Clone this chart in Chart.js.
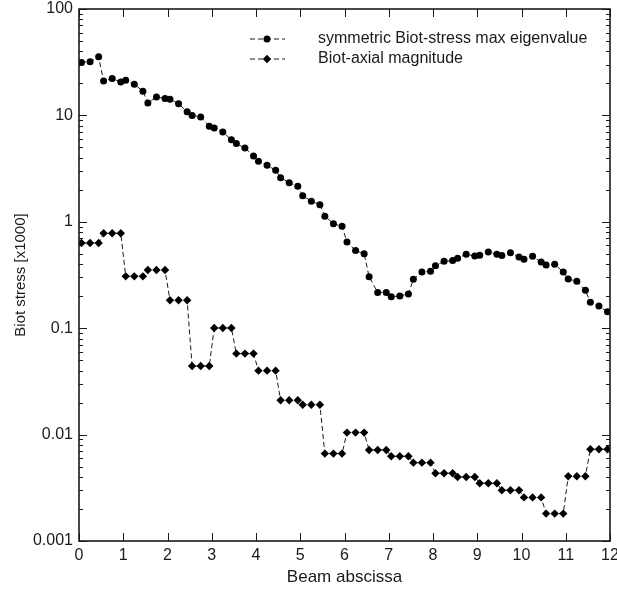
<!DOCTYPE html>
<html>
<head>
<meta charset="utf-8">
<script src="https://cdn.jsdelivr.net/npm/chart.js@4.4.1/dist/chart.umd.min.js"></script>
<style>
  html, body { margin: 0; padding: 0; background: #fff; }
  #wrap { width: 617px; height: 590px; }
</style>
</head>
<body>
<div id="wrap"><canvas id="mainChart" width="617" height="590"></canvas></div>
<script>
// Sample positions along the beam (3 points per element of length 0.5)
const abscissa = [
    0.056, 0.25, 0.444, 0.556, 0.75, 0.944, 1.056, 1.25, 1.444, 1.556, 1.75, 1.944,
    2.056, 2.25, 2.444, 2.556, 2.75, 2.944, 3.056, 3.25, 3.444, 3.556, 3.75, 3.944,
    4.056, 4.25, 4.444, 4.556, 4.75, 4.944, 5.056, 5.25, 5.444, 5.556, 5.75, 5.944,
    6.056, 6.25, 6.444, 6.556, 6.75, 6.944, 7.056, 7.25, 7.444, 7.556, 7.75, 7.944,
    8.056, 8.25, 8.444, 8.556, 8.75, 8.944, 9.056, 9.25, 9.444, 9.556, 9.75, 9.944,
    10.056, 10.25, 10.444, 10.556, 10.75, 10.944, 11.056, 11.25, 11.444, 11.556, 11.75, 11.944
];

const eigenMax = [
    31.5, 32, 35.5, 21, 22.2, 20.6, 21.4, 19.6, 16.9, 13.1, 14.9, 14.4,
    14.2, 12.9, 10.8, 10.0, 9.66, 7.9, 7.6, 6.98, 5.9, 5.43, 4.94, 4.15,
    3.7, 3.4, 3.05, 2.6, 2.33, 2.16, 1.76, 1.56, 1.45, 1.13, 0.96, 0.91,
    0.645, 0.536, 0.502, 0.305, 0.217, 0.217, 0.198, 0.201, 0.21, 0.288, 0.337, 0.343,
    0.387, 0.425, 0.432, 0.454, 0.496, 0.477, 0.484, 0.52, 0.496, 0.481, 0.513, 0.467,
    0.444, 0.474, 0.419, 0.393, 0.398, 0.337, 0.29, 0.276, 0.227, 0.175, 0.162, 0.143
];

const axialMag = [
    0.632, 0.632, 0.632, 0.78, 0.78, 0.78, 0.307, 0.307, 0.307, 0.352, 0.352, 0.352,
    0.183, 0.183, 0.183, 0.0441, 0.0441, 0.0441, 0.1005, 0.1005, 0.1005, 0.0577, 0.0577, 0.0577,
    0.0399, 0.0399, 0.0399, 0.021, 0.021, 0.021, 0.0191, 0.0191, 0.0191, 0.00663, 0.00663, 0.00663,
    0.01044, 0.01044, 0.01044, 0.00717, 0.00717, 0.00717, 0.00625, 0.00625, 0.00625, 0.00545, 0.00545, 0.00545,
    0.00433, 0.00433, 0.00433, 0.004, 0.004, 0.004, 0.00349, 0.00349, 0.00349, 0.003, 0.003, 0.003,
    0.00257, 0.00257, 0.00257, 0.00181, 0.00181, 0.00181, 0.00406, 0.00406, 0.00406, 0.00728, 0.00728, 0.00728
];

const seriesLabels = ['symmetric Biot-stress max eigenvalue', 'Biot-axial magnitude'];
const xTickValues = [0, 1, 2, 3, 4, 5, 6, 7, 8, 9, 10, 11, 12];
const yTickValues = [0.001, 0.01, 0.1, 1, 10, 100];
const yTickLabels = ['0.001', '0.01', '0.1', '1', '10', '100'];

const FONT = '"Liberation Sans", Arial, sans-serif';
const INK = '#1a1a1a';

const toPoints = ys => ys.map((v, i) => ({ x: abscissa[i], y: v }));

// frame + inward ticks on all four sides
const frameTicks = {
    id: 'frameTicks',
    afterDraw(chart) {
        const { ctx, chartArea: a, scales: { x, y } } = chart;
        ctx.save();
        ctx.strokeStyle = INK;
        ctx.lineWidth = 1;
        ctx.beginPath();
        xTickValues.forEach(v => {
            const px = Math.round(x.getPixelForValue(v)) + 0.5;
            ctx.moveTo(px, a.bottom); ctx.lineTo(px, a.bottom - 8);
            ctx.moveTo(px, a.top); ctx.lineTo(px, a.top + 8);
        });
        for (let e = -3; e <= 2; e++) {
            for (let m = 1; m <= 9; m++) {
                const v = m * Math.pow(10, e);
                if (v > 100.0001) break;
                const len = m === 1 ? 8 : 4;
                const py = Math.round(y.getPixelForValue(v)) + 0.5;
                ctx.moveTo(a.left, py); ctx.lineTo(a.left + len, py);
                ctx.moveTo(a.right, py); ctx.lineTo(a.right - len, py);
            }
        }
        ctx.stroke();
        ctx.lineWidth = 1.6;
        ctx.strokeRect(a.left, a.top, a.right - a.left, a.bottom - a.top);
        ctx.restore();
    }
};

// legend inside the plot, top right
const insideLegend = {
    id: 'insideLegend',
    afterDatasetsDraw(chart) {
        const ctx = chart.ctx;
        ctx.save();
        chart.data.datasets.forEach((ds, i) => {
            const rowY = 39 + i * 20;
            ctx.strokeStyle = ds.borderColor;
            ctx.lineWidth = 1;
            ctx.setLineDash(ds.borderDash);
            ctx.beginPath();
            ctx.moveTo(250, rowY);
            ctx.lineTo(285, rowY);
            ctx.stroke();
            ctx.setLineDash([]);
            ctx.fillStyle = ds.pointBackgroundColor;
            ctx.strokeStyle = ds.pointBorderColor;
            Chart.helpers.drawPoint(ctx, {
                pointStyle: ds.pointStyle,
                radius: ds.pointRadius,
                rotation: 0,
                borderWidth: 0
            }, 267, rowY);
            ctx.fillStyle = INK;
            ctx.font = '16px ' + FONT;
            ctx.textBaseline = 'middle';
            ctx.textAlign = 'left';
            ctx.fillText(ds.label, 318, rowY);
        });
        ctx.restore();
    }
};

const ctx = document.getElementById('mainChart').getContext('2d');

new Chart(ctx, {
    type: 'line',
    data: {
        datasets: [
            {
                label: seriesLabels[0],
                data: toPoints(eigenMax),
                borderColor: INK,
                borderWidth: 1,
                borderDash: [5, 3],
                pointStyle: 'circle',
                pointRadius: 3.5,
                pointBackgroundColor: '#000',
                pointBorderColor: '#000',
                pointBorderWidth: 0,
                fill: false,
                tension: 0
            },
            {
                label: seriesLabels[1],
                data: toPoints(axialMag),
                borderColor: INK,
                borderWidth: 1,
                borderDash: [5, 3],
                pointStyle: 'rectRot',
                pointRadius: 4.2,
                pointBackgroundColor: '#000',
                pointBorderColor: '#000',
                pointBorderWidth: 0,
                fill: false,
                tension: 0
            }
        ]
    },
    options: {
        responsive: false,
        animation: false,
        layout: { padding: { top: 9, right: 7, left: 0, bottom: 0 } },
        plugins: {
            legend: { display: false },
            tooltip: { enabled: false }
        },
        scales: {
            x: {
                type: 'linear',
                min: 0,
                max: 12,
                afterBuildTicks: s => { s.ticks = xTickValues.map(v => ({ value: v })); },
                afterFit: s => { s.height = 49; s.paddingLeft = 0; s.paddingRight = 0; },
                ticks: {
                    color: INK,
                    padding: 5,
                    maxRotation: 0,
                    font: { family: FONT, size: 16 }
                },
                grid: { display: false, drawTicks: false },
                border: { display: false },
                title: {
                    display: true,
                    text: 'Beam abscissa',
                    color: INK,
                    font: { family: FONT, size: 17 },
                    padding: { top: 0, bottom: 2 }
                }
            },
            y: {
                type: 'logarithmic',
                min: 0.001,
                max: 100,
                afterBuildTicks: s => { s.ticks = yTickValues.map(v => ({ value: v })); },
                afterFit: s => { s.width = 79; s.paddingTop = 0; s.paddingBottom = 0; },
                ticks: {
                    color: INK,
                    padding: 6,
                    font: { family: FONT, size: 16 },
                    callback: v => yTickLabels[yTickValues.indexOf(v)] ?? ''
                },
                grid: { display: false, drawTicks: false },
                border: { display: false },
                title: {
                    display: true,
                    text: 'Biot stress [x1000]',
                    color: INK,
                    font: { family: FONT, size: 15 },
                    padding: { top: 12, bottom: 0 }
                }
            }
        }
    },
    plugins: [frameTicks, insideLegend]
});
</script>
</body>
</html>
